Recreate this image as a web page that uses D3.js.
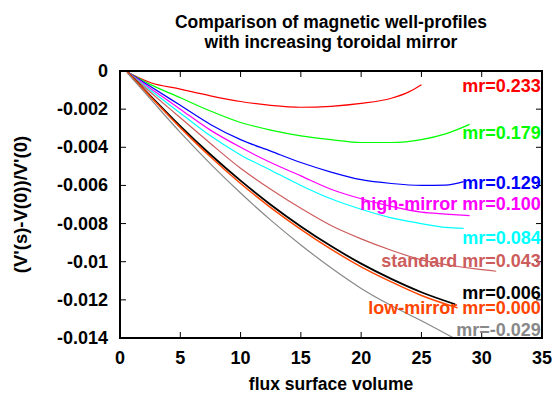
<!DOCTYPE html>
<html>
<head>
<meta charset="utf-8">
<script src="https://cdn.jsdelivr.net/npm/d3@7"></script>
<style>
  body { margin: 0; background: #fff; }
  svg { font-family: "Liberation Sans", Arial, sans-serif; font-weight: bold; }
</style>
</head>
<body>
<div id="chart"></div>
<script>
// flux surface volume sample points and (V'(s)-V'(0))/V'(0) per configuration
const xMr233 = [0.6, 2.5, 5, 7.5, 10, 12.5, 15, 17.5, 20, 22.5, 24, 25];
const yMr233 = [-0.00005, -0.0006, -0.00095, -0.0013, -0.0016, -0.0018, -0.0019, -0.00185, -0.0017, -0.00143, -0.00108, -0.00072];

const xMr179 = [0.6, 2.5, 5, 7.5, 10, 12.5, 15, 17.5, 20, 22.5, 25, 27, 29];
const yMr179 = [-0.00005, -0.0007, -0.0014, -0.0021, -0.0027, -0.0031, -0.0034, -0.0036, -0.00375, -0.00375, -0.0036, -0.0033, -0.0028];

const xMr129 = [0.6, 2.5, 5, 7.5, 10, 12.5, 15, 17.5, 20, 22.5, 25, 27, 28.5];
const yMr129 = [-0.00005, -0.0008, -0.0018, -0.0028, -0.0036, -0.0042, -0.0048, -0.0053, -0.0057, -0.0059, -0.006, -0.00598, -0.0058];

const xMr100 = [0.6, 2.5, 5, 7.5, 10, 12.5, 15, 17.5, 20, 22.5, 25, 27, 29];
const yMr100 = [-0.00005, -0.0009, -0.002, -0.0031, -0.004, -0.0048, -0.0055, -0.0062, -0.0067, -0.0071, -0.0074, -0.0075, -0.00758];

const xMr084 = [0.6, 2.5, 5, 7.5, 10, 12.5, 15, 17.5, 20, 22.5, 25, 27, 28.5];
const yMr084 = [-0.00005, -0.001, -0.0022, -0.0034, -0.0044, -0.0052, -0.006, -0.0067, -0.00725, -0.0077, -0.008, -0.0082, -0.00825];

const xMr043 = [0.6, 2.5, 5, 7.5, 10, 12.5, 15, 17.5, 20, 22.5, 25, 27.5, 29.5, 31.2];
const yMr043 = [-0.00005, -0.0011, -0.00245, -0.0038, -0.0051, -0.0062, -0.0072, -0.0081, -0.0088, -0.0094, -0.0099, -0.0102, -0.01038, -0.0105];

const xMr006 = [0.6, 2.5, 5, 7.5, 10, 12.5, 15, 17.5, 20, 22.5, 25, 27.8];
const yMr006 = [-0.00005, -0.00129, -0.00289, -0.00438, -0.00575, -0.00701, -0.00815, -0.00918, -0.0101, -0.0109, -0.0116, -0.01223];

const xMr000 = [0.6, 2.5, 5, 7.5, 10, 12.5, 15, 17.5, 20, 22.5, 25, 28];
const yMr000 = [-0.00005, -0.00133, -0.00297, -0.0045, -0.0059, -0.00716, -0.0083, -0.00934, -0.01027, -0.01106, -0.01177, -0.01242];

const xMrm029 = [0.6, 2.5, 5, 7.5, 10, 12.5, 15, 17.5, 20, 22.5, 25, 27.6];
const yMrm029 = [-0.0001, -0.00145, -0.00322, -0.00487, -0.0064, -0.00782, -0.00912, -0.01032, -0.0114, -0.0123, -0.0131, -0.01398];

// label text and where it sits (data coords, right aligned)
const labelTexts = ['mr=0.233', 'mr=0.179', 'mr=0.129', 'high-mirror mr=0.100', 'mr=0.084',
  'standard mr=0.043', 'mr=0.006', 'low-mirror mr=0.000', 'mr=-0.029'];
const labelY = [-0.00075, -0.0032, -0.00583, -0.00697, -0.00873, -0.00992, -0.01162, -0.01241, -0.01355];
const labelX = 34.9;

const xTicks = [0, 5, 10, 15, 20, 25, 30, 35];
const yTicks = [0, -0.002, -0.004, -0.006, -0.008, -0.01, -0.012, -0.014];
const yTickLabels = ['0', '-0.002', '-0.004', '-0.006', '-0.008', '-0.01', '-0.012', '-0.014'];

const series = [
  { xs: xMr233, ys: yMr233, color: '#ff0000', w: 1.2 },
  { xs: xMr179, ys: yMr179, color: '#00ff00', w: 1.2 },
  { xs: xMr129, ys: yMr129, color: '#0000ff', w: 1.2 },
  { xs: xMr100, ys: yMr100, color: '#ff00ff', w: 1.2 },
  { xs: xMr084, ys: yMr084, color: '#00ffff', w: 1.2 },
  { xs: xMr043, ys: yMr043, color: '#cd5c5c', w: 1.2 },
  { xs: xMr006, ys: yMr006, color: '#000000', w: 1.8 },
  { xs: xMr000, ys: yMr000, color: '#ff4500', w: 1.5 },
  { xs: xMrm029, ys: yMrm029, color: '#888888', w: 1.2 }
];

const W = 557, H = 394;
const margin = { top: 71, right: 15, bottom: 56, left: 120 };
const width = W - margin.left - margin.right,
  height = H - margin.top - margin.bottom;

const x = d3.scaleLinear().domain([0, 35]).range([0, width]);
const y = d3.scaleLinear().domain([-0.014, 0]).range([height, 0]);

const svg = d3.select('#chart').append('svg')
  .attr('width', W)
  .attr('height', H);

// title
svg.append('text')
  .attr('x', margin.left + width / 2)
  .attr('y', 28)
  .attr('text-anchor', 'middle')
  .style('font-size', '17.5px')
  .text('Comparison of magnetic well-profiles');
svg.append('text')
  .attr('x', margin.left + width / 2)
  .attr('y', 48)
  .attr('text-anchor', 'middle')
  .style('font-size', '17.5px')
  .text('with increasing toroidal mirror');

const g = svg.append('g')
  .attr('transform', `translate(${margin.left},${margin.top})`);

// inward ticks on all four sides
const tickLen = 6;
g.selectAll('.xt').data(xTicks.slice(1, -1)).enter().append('line')
  .attr('x1', d => x(d)).attr('x2', d => x(d))
  .attr('y1', height).attr('y2', height - tickLen)
  .attr('stroke', '#000').attr('stroke-width', 1);
g.selectAll('.xt2').data(xTicks.slice(1, -1)).enter().append('line')
  .attr('x1', d => x(d)).attr('x2', d => x(d))
  .attr('y1', 0).attr('y2', tickLen)
  .attr('stroke', '#000').attr('stroke-width', 1);
g.selectAll('.yt').data(yTicks.slice(1, -1)).enter().append('line')
  .attr('x1', 0).attr('x2', tickLen)
  .attr('y1', d => y(d)).attr('y2', d => y(d))
  .attr('stroke', '#000').attr('stroke-width', 1);
g.selectAll('.yt2').data(yTicks.slice(1, -1)).enter().append('line')
  .attr('x1', width).attr('x2', width - tickLen)
  .attr('y1', d => y(d)).attr('y2', d => y(d))
  .attr('stroke', '#000').attr('stroke-width', 1);

// tick labels
g.selectAll('.xl').data(xTicks).enter().append('text')
  .attr('x', d => x(d))
  .attr('y', height + 26)
  .attr('text-anchor', 'middle')
  .style('font-size', '18px')
  .text(d => d);
g.selectAll('.yl').data(yTicks).enter().append('text')
  .attr('x', -12)
  .attr('y', d => y(d) + 6)
  .attr('text-anchor', 'end')
  .style('font-size', '18px')
  .text((d, i) => yTickLabels[i]);

// curves
const line = d3.line()
  .x(d => x(d[0]))
  .y(d => y(d[1]))
  .curve(d3.curveMonotoneX);

series.forEach(function (s) {
  g.append('path')
    .datum(s.xs.map((v, i) => [v, s.ys[i]]))
    .attr('fill', 'none')
    .attr('stroke', s.color)
    .attr('stroke-width', s.w)
    .attr('d', line);
});

// curve labels
g.selectAll('.lab').data(labelTexts).enter().append('text')
  .attr('x', x(labelX))
  .attr('y', (d, i) => y(labelY[i]) + 6.5)
  .attr('text-anchor', 'end')
  .attr('fill', (d, i) => series[i].color)
  .style('font-size', '18px')
  .text(d => d);

// frame
g.append('rect')
  .attr('width', width).attr('height', height)
  .attr('fill', 'none')
  .attr('stroke', '#000')
  .attr('stroke-width', 2);

// axis titles
svg.append('text')
  .attr('x', margin.left + width / 2)
  .attr('y', 390)
  .attr('text-anchor', 'middle')
  .style('font-size', '17.5px')
  .text('flux surface volume');
svg.append('text')
  .attr('transform', `translate(27,${margin.top + height / 2}) rotate(-90)`)
  .attr('text-anchor', 'middle')
  .style('font-size', '18.5px')
  .text("(V'(s)-V(0))/V'(0)");
</script>
</body>
</html>
